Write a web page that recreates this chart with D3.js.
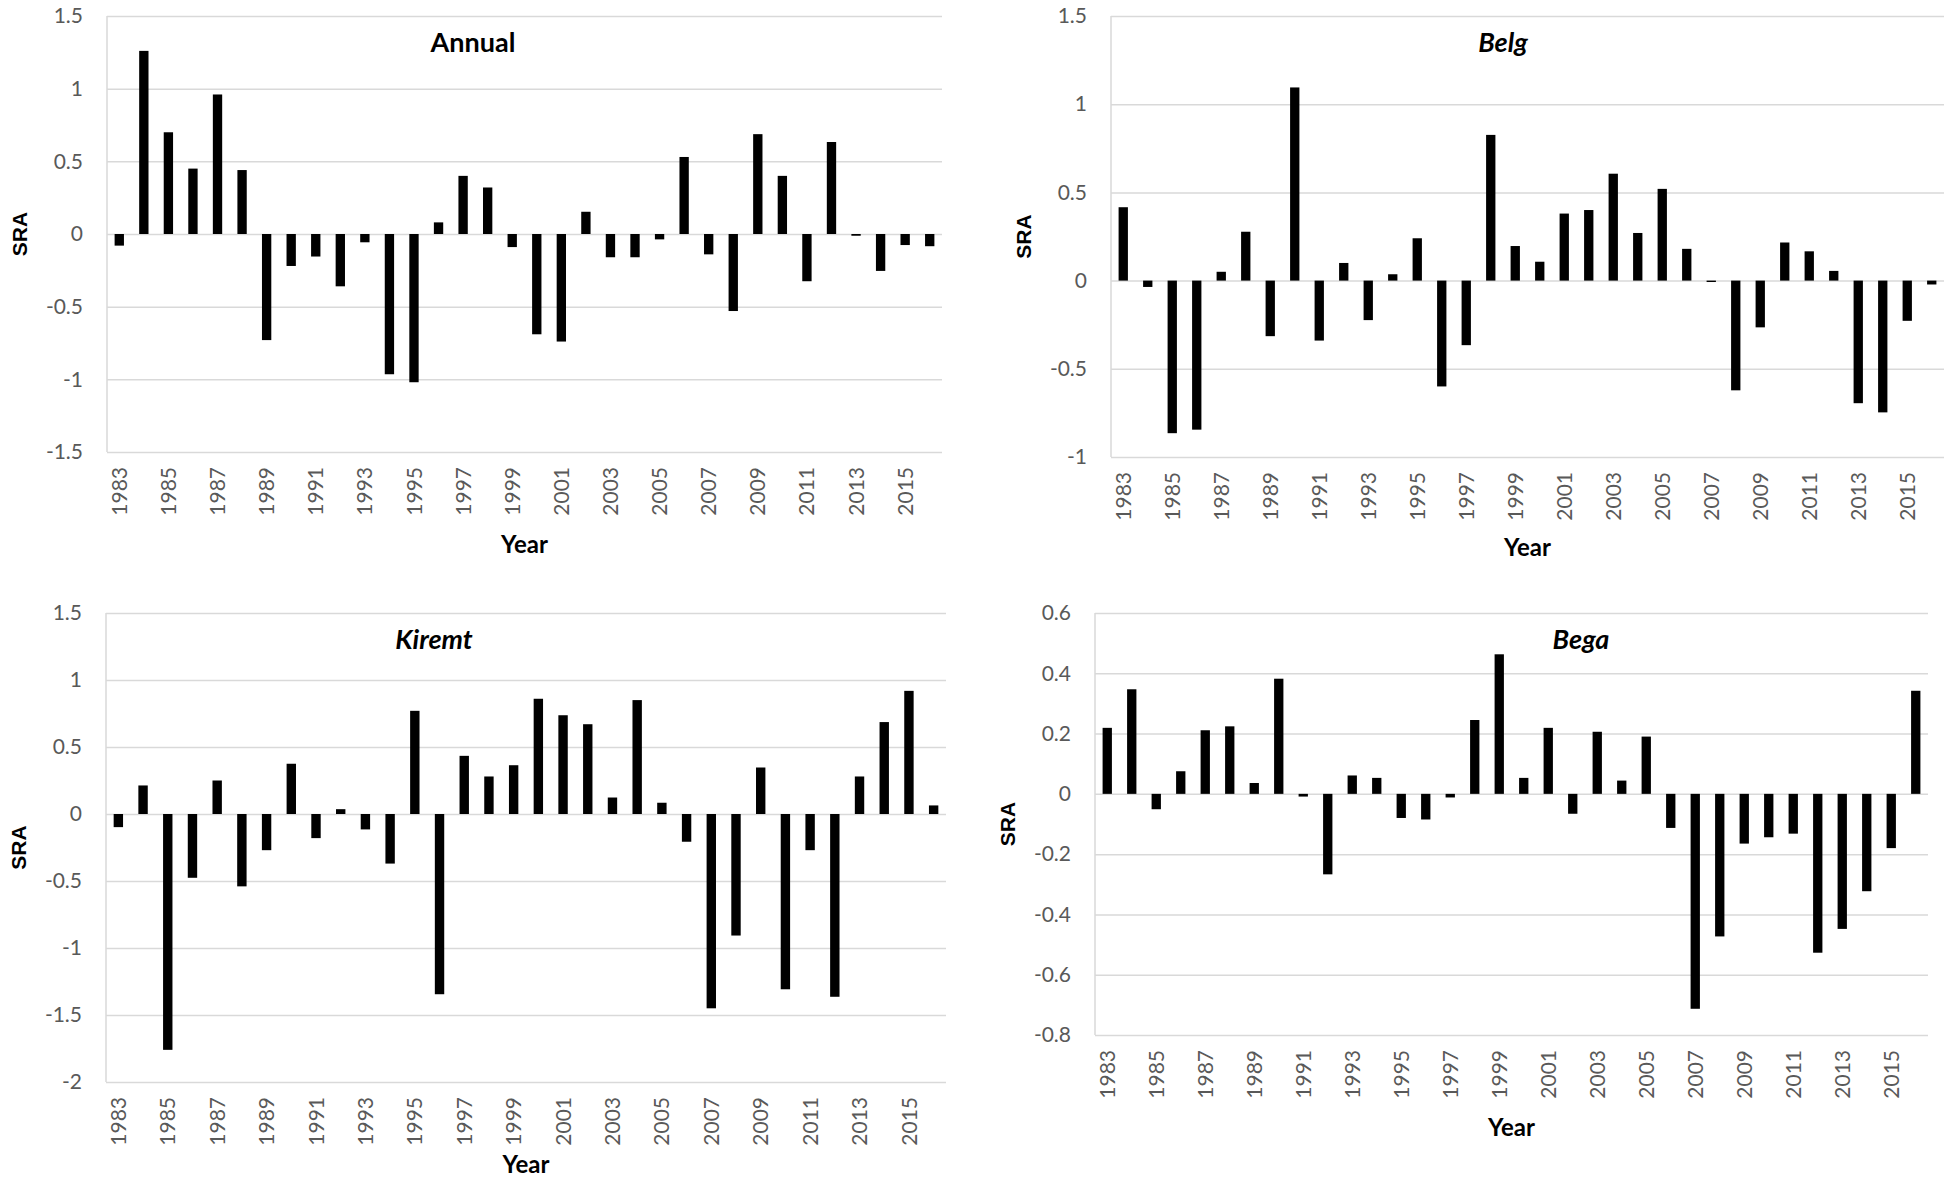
<!DOCTYPE html>
<html>
<head>
<meta charset="utf-8">
<script src="https://cdn.jsdelivr.net/npm/d3@7"></script>
<style>
  body { margin: 0; background: #fff; }
  svg { display: block; }
</style>
</head>
<body>
<div id="chart"></div>
<script>
// years on the category axis
var years = ["1983","1984","1985","1986","1987","1988","1989","1990","1991","1992",
             "1993","1994","1995","1996","1997","1998","1999","2000","2001","2002",
             "2003","2004","2005","2006","2007","2008","2009","2010","2011","2012",
             "2013","2014","2015","2016"];

// only every other year gets a label
var yearLabels = ["1983","1985","1987","1989","1991","1993","1995","1997","1999","2001",
                  "2003","2005","2007","2009","2011","2013","2015"];

var annualSRA = [-0.08, 1.26, 0.70, 0.45, 0.96, 0.44, -0.73, -0.22, -0.155, -0.36,
                 -0.057, -0.965, -1.02, 0.08, 0.40, 0.32, -0.09, -0.69, -0.74, 0.153,
                 -0.16, -0.16, -0.037, 0.53, -0.14, -0.53, 0.687, 0.40, -0.325, 0.633,
                 -0.012, -0.254, -0.076, -0.084];

var belgSRA = [0.416, -0.036, -0.865, -0.845, 0.05, 0.277, -0.315, 1.095, -0.34, 0.10,
               -0.224, 0.036, 0.24, -0.60, -0.366, 0.826, 0.196, 0.107, 0.38, 0.40,
               0.606, 0.27, 0.52, 0.18, -0.008, -0.622, -0.265, 0.216, 0.166, 0.055,
               -0.695, -0.747, -0.228, -0.022];

var kiremtSRA = [-0.098, 0.213, -1.76, -0.476, 0.25, -0.54, -0.27, 0.375, -0.18, 0.036,
                 -0.115, -0.37, 0.77, -1.345, 0.434, 0.28, 0.364, 0.86, 0.737, 0.67,
                 0.123, 0.85, 0.084, -0.207, -1.45, -0.907, 0.347, -1.308, -0.27, -1.364,
                 0.28, 0.686, 0.919, 0.064];

var begaSRA = [0.219, 0.347, -0.051, 0.075, 0.211, 0.224, 0.036, 0.382, -0.009, -0.267,
               0.061, 0.053, -0.08, -0.085, -0.012, 0.245, 0.463, 0.053, 0.219, -0.066,
               0.206, 0.044, 0.19, -0.113, -0.713, -0.473, -0.165, -0.144, -0.132, -0.527,
               -0.448, -0.323, -0.18, 0.342];

var annualTicks = [-1.5, -1, -0.5, 0, 0.5, 1, 1.5];
var belgTicks = [-1, -0.5, 0, 0.5, 1, 1.5];
var kiremtTicks = [-2, -1.5, -1, -0.5, 0, 0.5, 1, 1.5];
var begaTicks = [-0.8, -0.6, -0.4, -0.2, 0, 0.2, 0.4, 0.6];

var width = 1951,
    height = 1178;

var panels = [
    { title: "Annual", italic: false, values: annualSRA, ticks: annualTicks,
      left: 107, right: 942, top: 16, bottom: 452, titleX: 473, yearDy: 101 },
    { title: "Belg", italic: true, values: belgSRA, ticks: belgTicks,
      left: 1111, right: 1944, top: 16, bottom: 457, titleX: 1503, yearDy: 99 },
    { title: "Kiremt", italic: true, values: kiremtSRA, ticks: kiremtTicks,
      left: 106, right: 946, top: 613, bottom: 1082, titleX: 434, yearDy: 91 },
    { title: "Bega", italic: true, values: begaSRA, ticks: begaTicks,
      left: 1095, right: 1928, top: 613, bottom: 1035, titleX: 1581, yearDy: 101 }
];

var svg = d3.select("#chart")
    .append("svg")
    .attr("width", width)
    .attr("height", height);

panels.forEach(function (p) {
    var x = d3.scaleBand()
        .domain(years)
        .range([p.left, p.right])
        .paddingInner(0.62)
        .paddingOuter(0.31);

    var y = d3.scaleLinear()
        .domain(d3.extent(p.ticks))
        .range([p.bottom, p.top]);

    var g = svg.append("g");

    // gridlines + y tick labels
    var yAxis = g.append("g")
        .attr("transform", "translate(" + p.left + ",0)")
        .call(d3.axisLeft(y)
            .tickValues(p.ticks)
            .tickSize(-(p.right - p.left))
            .tickPadding(24)
            .tickFormat(function (d) { return String(+d.toFixed(2)); }));
    yAxis.select(".domain").remove();
    yAxis.selectAll(".tick line")
        .attr("stroke", "#d9d9d9")
        .attr("stroke-width", 1.5);
    yAxis.selectAll(".tick text")
        .attr("fill", "#595959")
        .style("font-family", "Lato, 'Open Sans', sans-serif")
        .style("font-size", "21px");

    // vertical axis line
    g.append("line")
        .attr("x1", p.left).attr("x2", p.left)
        .attr("y1", p.top).attr("y2", p.bottom)
        .attr("stroke", "#d9d9d9")
        .attr("stroke-width", 1.5);

    // bars
    g.selectAll(".bar")
        .data(p.values)
        .enter().append("rect")
        .attr("class", "bar")
        .attr("x", function (d, i) { return x(years[i]); })
        .attr("width", x.bandwidth())
        .attr("y", function (d) { return y(Math.max(0, d)); })
        .attr("height", function (d) { return Math.max(1, Math.abs(y(d) - y(0))); })
        .attr("fill", "#000");

    // year labels, rotated
    var xAxis = g.append("g")
        .attr("transform", "translate(0," + p.bottom + ")")
        .call(d3.axisBottom(x).tickValues(yearLabels).tickSize(0));
    xAxis.select(".domain").remove();
    xAxis.selectAll(".tick text")
        .attr("transform", "rotate(-90)")
        .attr("x", -15)
        .attr("y", 0)
        .attr("dy", "0.36em")
        .style("text-anchor", "end")
        .attr("fill", "#595959")
        .style("font-family", "Lato, 'Open Sans', sans-serif")
        .style("font-size", "21px");

    // panel title
    g.append("text")
        .attr("x", p.titleX)
        .attr("y", p.top + 36)
        .attr("text-anchor", "middle")
        .style("font-family", "Lato, 'Open Sans', sans-serif")
        .style("font-size", "27px")
        .style("font-weight", "bold")
        .style("font-style", p.italic ? "italic" : "normal")
        .text(p.title);

    // axis titles
    g.append("text")
        .attr("transform", "translate(" + (p.left - 80) + "," + ((p.top + p.bottom) / 2) + ") rotate(-90)")
        .attr("text-anchor", "middle")
        .style("font-family", "'Liberation Sans', Arial, sans-serif")
        .style("font-size", "21px")
        .style("font-weight", "bold")
        .attr("fill", "#000")
        .text("SRA");

    g.append("text")
        .attr("x", (p.left + p.right) / 2)
        .attr("y", p.bottom + p.yearDy)
        .attr("text-anchor", "middle")
        .style("font-family", "Lato, 'Open Sans', sans-serif")
        .style("font-size", "24px")
        .style("font-weight", "bold")
        .text("Year");
});
</script>
</body>
</html>
